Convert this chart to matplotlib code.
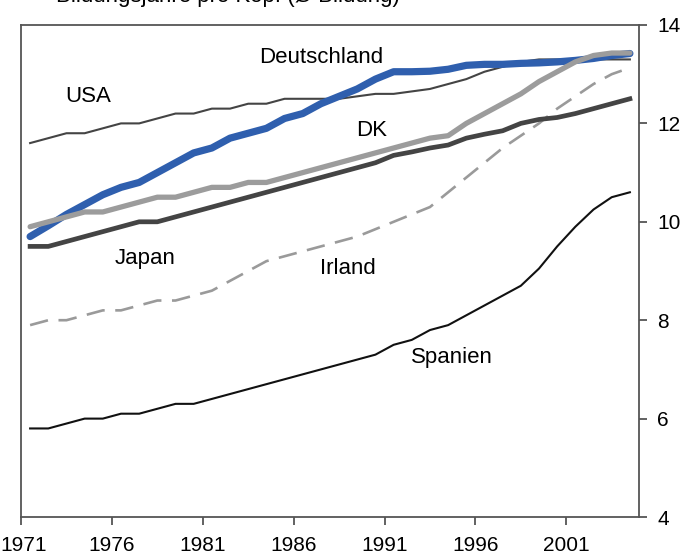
import matplotlib.pyplot as plt
import matplotlib.transforms as mtransforms
import numpy as np

plt.rcParams['font.family'] = ['Liberation Sans', 'DejaVu Sans']

# Jahre 1971..2004
years = np.arange(1971, 2005)

usa = [11.6, 11.7, 11.8, 11.8, 11.9, 12.0, 12.0, 12.1, 12.2, 12.2,
       12.3, 12.3, 12.4, 12.4, 12.5, 12.5, 12.5, 12.5, 12.55, 12.6,
       12.6, 12.65, 12.7, 12.8, 12.9, 13.05, 13.15, 13.25, 13.3, 13.3,
       13.3, 13.3, 13.3, 13.3]
deutschland = [9.7, 9.92, 10.15, 10.35, 10.55, 10.7, 10.8, 11.0, 11.2, 11.4,
               11.5, 11.7, 11.8, 11.9, 12.1, 12.2, 12.4, 12.55, 12.7, 12.9,
               13.05, 13.05, 13.06, 13.1, 13.18, 13.2, 13.2, 13.22, 13.23, 13.25,
               13.28, 13.32, 13.38, 13.42]
dk = [9.9, 10.0, 10.1, 10.2, 10.2, 10.3, 10.4, 10.5, 10.5, 10.6,
      10.7, 10.7, 10.8, 10.8, 10.9, 11.0, 11.1, 11.2, 11.3, 11.4,
      11.5, 11.6, 11.7, 11.75, 12.0, 12.2, 12.4, 12.6, 12.85, 13.05,
      13.25, 13.38, 13.43, 13.43]
japan = [9.5, 9.5, 9.6, 9.7, 9.8, 9.9, 10.0, 10.0, 10.1, 10.2,
         10.3, 10.4, 10.5, 10.6, 10.7, 10.8, 10.9, 11.0, 11.1, 11.2,
         11.35, 11.42, 11.5, 11.56, 11.7, 11.78, 11.85, 12.0, 12.08, 12.12,
         12.2, 12.3, 12.4, 12.5]
irland = [7.9, 8.0, 8.0, 8.1, 8.2, 8.2, 8.3, 8.4, 8.4, 8.5,
          8.6, 8.8, 9.0, 9.2, 9.3, 9.4, 9.5, 9.6, 9.7, 9.85,
          10.0, 10.15, 10.3, 10.6, 10.9, 11.2, 11.5, 11.75, 12.0, 12.3,
          12.55, 12.8, 13.0, 13.13]
spanien = [5.8, 5.8, 5.9, 6.0, 6.0, 6.1, 6.1, 6.2, 6.3, 6.3,
           6.4, 6.5, 6.6, 6.7, 6.8, 6.9, 7.0, 7.1, 7.2, 7.3,
           7.5, 7.6, 7.8, 7.9, 8.1, 8.3, 8.5, 8.7, 9.05, 9.5,
           9.9, 10.25, 10.5, 10.6]

xticks = [1971, 1976, 1981, 1986, 1991, 1996, 2001]
yticks = [4, 6, 8, 10, 12, 14]

fig = plt.figure(figsize=(6.85, 5.59), dpi=100)
ax = fig.add_axes([0.0307, 0.0751, 0.9021, 0.8802])

x = years + 0.5
ax.plot(x, spanien, color='#111111', lw=1.5)
ax.plot(x, irland, color='#9a9a9a', lw=1.9, dashes=(7, 4))
ax.plot(x, usa, color='#444444', lw=1.5)
ax.plot(x, japan, color='#444444', lw=3.4)
ax.plot(x, deutschland, color='#2f5fae', lw=5.2, solid_capstyle='round')
ax.plot(x, dk, color='#9c9c9c', lw=3.8, solid_capstyle='round')

fs = 16
ax.text(1974.7, 12.54, 'USA', fontsize=fs, ha='center', va='center')
ax.text(1987.5, 13.33, 'Deutschland', fontsize=fs, ha='center', va='center')
ax.text(1990.3, 11.85, 'DK', fontsize=fs, ha='center', va='center')
ax.text(1977.8, 9.26, 'Japan', fontsize=fs, ha='center', va='center')
ax.text(1989.0, 9.06, 'Irland', fontsize=fs, ha='center', va='center')
ax.text(1994.7, 7.25, 'Spanien', fontsize=fs, ha='center', va='center')

ax.set_xlim(1971, 2005)
ax.set_ylim(4, 14)
ax.set_xticks(xticks)
ax.set_yticks(yticks)
ax.yaxis.tick_right()
ax.tick_params(axis='x', direction='out', length=6, width=1.3, color='#555555',
               labelsize=15, pad=8)
ax.tick_params(axis='y', direction='out', length=6, width=1.3, color='#555555',
               labelsize=15, pad=7)
for s in ax.spines.values():
    s.set_color('#555555')
    s.set_linewidth(1.3)

# erstes Label etwas nach rechts, damit es nicht abgeschnitten wird
first = ax.get_xticklabels()[0]
first.set_transform(first.get_transform() +
                    mtransforms.ScaledTranslation(3 / 100, 0, fig.dpi_scale_trans))

# abgeschnittener Titel oben
fig.text(56 / 685, 1 - 2 / 559, 'Bildungsjahre pro Kopf (Ø Bildung)',
         fontsize=16, ha='left', va='baseline')

fig.savefig('out.png', dpi=100)
